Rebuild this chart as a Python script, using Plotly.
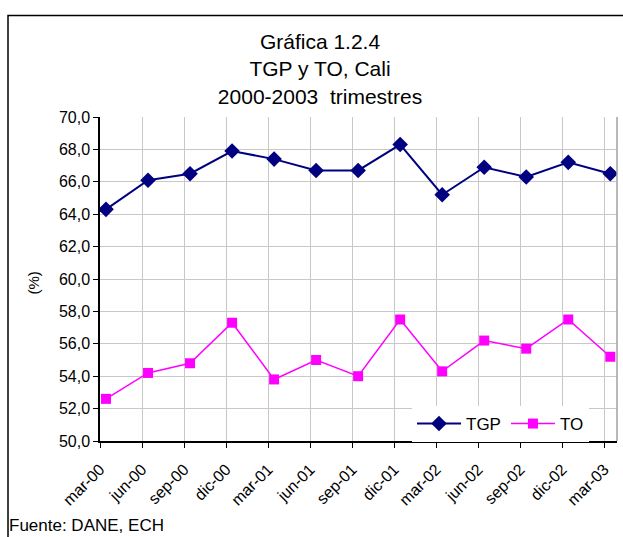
import plotly.graph_objs as go

# Datos
trimestres = ["mar-00", "jun-00", "sep-00", "dic-00", "mar-01", "jun-01", "sep-01",
              "dic-01", "mar-02", "jun-02", "sep-02", "dic-02", "mar-03"]
tgp = [64.3, 66.1, 66.5, 67.9, 67.4, 66.7, 66.7, 68.3, 65.2, 66.9, 66.3, 67.2, 66.5]
to = [52.6, 54.2, 54.8, 57.3, 53.8, 55.0, 54.0, 57.5, 54.3, 56.2, 55.7, 57.5, 55.2]

W, H = 623, 537
L, T = 100, 117
R, B = W - 617, H - 441
pw, ph = W - L - R, H - T - B

def px(x):  # pixel -> paper x
    return (x - L) / pw

def py(y):  # pixel -> paper y
    return (H - B - y) / ph

off = 0.143  # excel-ish offset between markers and category ticks
idx = list(range(len(trimestres)))

font = "Liberation Sans, Arial, sans-serif"

fig = go.Figure()
fig.add_trace(go.Scatter(x=idx, y=tgp, name="TGP", mode="lines+markers",
                         line=dict(color="#000080", width=2),
                         marker=dict(symbol="diamond", size=12, color="#000080")))
fig.add_trace(go.Scatter(x=idx, y=to, name="TO", mode="lines+markers",
                         line=dict(color="#FF00FF", width=1.5),
                         marker=dict(symbol="square", size=10, color="#FF00FF")))

fig.update_layout(
    width=W, height=H,
    margin=dict(l=L, r=R, t=T, b=B, autoexpand=False),
    paper_bgcolor="white", plot_bgcolor="white",
    separators=", ",
    font=dict(family=font, size=16, color="black"),
    title=dict(text="Gráfica 1.2.4<br>TGP y TO, Cali<br>2000-2003  trimestres",
               x=320 / W, xanchor="center", y=1 - 49 / H, yanchor="top",
               font=dict(size=21)),
    showlegend=True,
    legend=dict(orientation="h", x=px(412), xanchor="left", y=py(442), yanchor="bottom",
                bgcolor="white", itemwidth=44, font=dict(size=17),
                tracegroupgap=0),
    xaxis=dict(range=[-off, 12.16], tickvals=[i - off for i in idx], ticktext=trimestres,
               tickangle=-45, ticks="outside", ticklen=5, tickcolor="black",
               ticklabelstandoff=6,
               showline=True, linecolor="black", linewidth=1.5,
               showgrid=True, gridcolor="#c8c8c8", gridwidth=1, zeroline=False,
               tickfont=dict(size=16)),
    yaxis=dict(range=[50, 70], dtick=2, tickformat=".1f", ticks="outside", ticklen=5,
               tickcolor="black", showline=True, linecolor="black", linewidth=1.5,
               showgrid=True, gridcolor="#c8c8c8", gridwidth=1, zeroline=False,
               tickfont=dict(size=16)),
    shapes=[
        dict(type="line", xref="paper", yref="paper", x0=1, x1=1, y0=0, y1=1,
             line=dict(color="#a0a0a0", width=1.5)),
        dict(type="rect", xref="paper", yref="paper", x0=px(8), x1=px(640),
             y0=py(560), y1=py(15.5), line=dict(color="black", width=1.5)),
    ],
    annotations=[
        dict(text="(%)", xref="paper", yref="paper", x=px(22), y=py(283),
             textangle=-90, showarrow=False, font=dict(size=15)),
        dict(text="Fuente: DANE, ECH", xref="paper", yref="paper", x=px(7), y=py(525),
             xanchor="left", yanchor="middle", showarrow=False, font=dict(size=17)),
    ],
)

# drop the default page margin so the figure fills the window
fig.write_html("out.html", config={"displayModeBar": False},
               post_script="document.body.style.margin='0';document.body.style.overflow='hidden';")
